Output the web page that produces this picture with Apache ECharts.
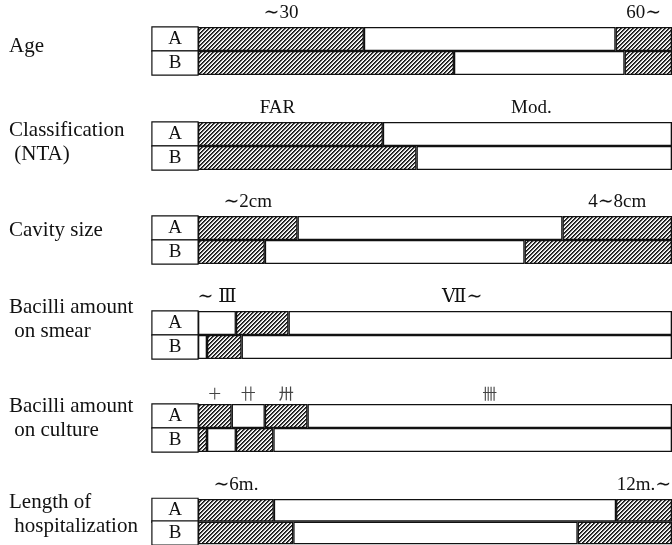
<!DOCTYPE html>
<html><head><meta charset="utf-8">
<script src="https://cdn.jsdelivr.net/npm/echarts@6/dist/echarts.min.js"></script>
<style>html,body{margin:0;padding:0;background:#fff}#c{width:672px;height:545px}</style>
</head><body><div id="c"></div>
<script>
// ---------- data ----------
const groupNames = ['Age', 'Classification\n (NTA)', 'Cavity size', 'Bacilli amount\n on smear', 'Bacilli amount\n on culture', 'Length of\n hospitalization'];
const rowLabels = ['A', 'B'];

const ageA = [35.0, 53.1, 11.9];
const ageB = [54.0, 36.0, 10.0];
const classA = [39.0, 61.0];
const classB = [46.1, 53.9];
const cavityA = [21.0, 55.9, 23.1];
const cavityB = [14.1, 54.8, 31.1];
const smearA = [8.0, 11.1, 80.9];
const smearB = [1.9, 7.3, 90.8];
const cultureA = [7.1, 7.0, 9.0, 76.9];
const cultureB = [1.9, 6.1, 7.9, 84.1];
const hospA = [16.0, 72.2, 11.8];
const hospB = [20.1, 60.0, 19.9];

const ageTicks = ['\u223C30', '', '60\u223C'];
const classTicks = ['FAR', 'Mod.'];
const cavityTicks = ['\u223C2cm', '', '4\u223C8cm'];
const smearTicks = ['\u223C \u2162', '', '\u2166\u223C'];
const cultureTicks = ['\uFF0B', '\u5344', '\u5345', '\u534C'];
const hospTicks = ['\u223C6m.', '', '12m.\u223C'];

// ---------- styling / layout ----------
const groups = [
  {a: ageA, b: ageB, ticks: ageTicks, firstHatched: true},
  {a: classA, b: classB, ticks: classTicks, firstHatched: true},
  {a: cavityA, b: cavityB, ticks: cavityTicks, firstHatched: true},
  {a: smearA, b: smearB, ticks: smearTicks, firstHatched: false},
  {a: cultureA, b: cultureB, ticks: cultureTicks, firstHatched: true},
  {a: hospA, b: hospB, ticks: hospTicks, firstHatched: true}
];
const groupTops = [27, 122, 216, 311, 404, 499];
const nameTops = [34, 118, 218, 295, 394, 490];
const tickShift = {'1-0': -13, '1-1': 4, '3-2': -18};
const serif = '"Liberation Serif", "DejaVu Serif", serif';

function makeHatch() {
  const c = document.createElement('canvas');
  c.width = 4; c.height = 4;
  const ctx = c.getContext('2d');
  const img = ctx.createImageData(4, 4);
  for (let y = 0; y < 4; y++) for (let x = 0; x < 4; x++) {
    const k = (x + y) % 4;
    const v = k === 0 ? 20 : (k === 1 ? 70 : (k === 2 ? 215 : 255));
    const p = (y * 4 + x) * 4;
    img.data[p] = v; img.data[p + 1] = v; img.data[p + 2] = v; img.data[p + 3] = 255;
  }
  ctx.putImageData(img, 0, 0);
  return c;
}
const hatch = {image: makeHatch(), repeat: 'repeat'};

const grids = [], xAxes = [], yAxes = [], series = [], graphics = [];
groups.forEach((g, gi) => {
  grids.push({left: 198, right: 0, top: groupTops[gi], height: 48});
  xAxes.push({type: 'value', gridIndex: gi, min: 0, max: 100, show: false});
  yAxes.push({
    type: 'category', gridIndex: gi, data: rowLabels, inverse: true,
    axisLine: {show: false}, axisTick: {show: false}, splitLine: {show: false},
    axisLabel: {
      interval: 0, hideOverlap: false,
      margin: 23, align: 'center', verticalAlign: 'middle',
      width: 45, height: 23, lineHeight: 23,
      backgroundColor: '#fff', borderColor: '#111', borderWidth: 1.2,
      fontFamily: serif, fontSize: 19, color: '#111'
    }
  });
  g.a.forEach((v, i) => {
    const hatched = (i % 2 === 0) === g.firstHatched;
    const tick = g.ticks[i] || '';
    const isCulture = gi === 4;
    series.push({
      type: 'bar', xAxisIndex: gi, yAxisIndex: gi, stack: 'g' + gi,
      barWidth: '100%', silent: true, animation: false,
      itemStyle: {color: hatched ? hatch : '#fff', borderColor: '#111', borderWidth: 1.3},
      data: [
        {value: v, label: {
          show: tick !== '', formatter: tick, position: 'top', distance: isCulture ? 3 : 4,
          offset: [tickShift[gi + '-' + i] || 0, 0],
          fontFamily: isCulture ? '"Noto Sans CJK JP", sans-serif' : serif,
          fontSize: isCulture ? 15 : 19, color: isCulture ? '#444' : '#111'
        }},
        {value: g.b[i]}
      ]
    });
  });
  graphics.push({
    type: 'text', left: 9, top: nameTops[gi],
    style: {text: groupNames[gi], font: '21px ' + serif, fill: '#111', lineHeight: 24}
  });
});

const chart = echarts.init(document.getElementById('c'), null, {renderer: 'canvas'});
chart.setOption({
  animation: false,
  grid: grids, xAxis: xAxes, yAxis: yAxes, series: series, graphic: graphics
});
</script>
</body></html>
